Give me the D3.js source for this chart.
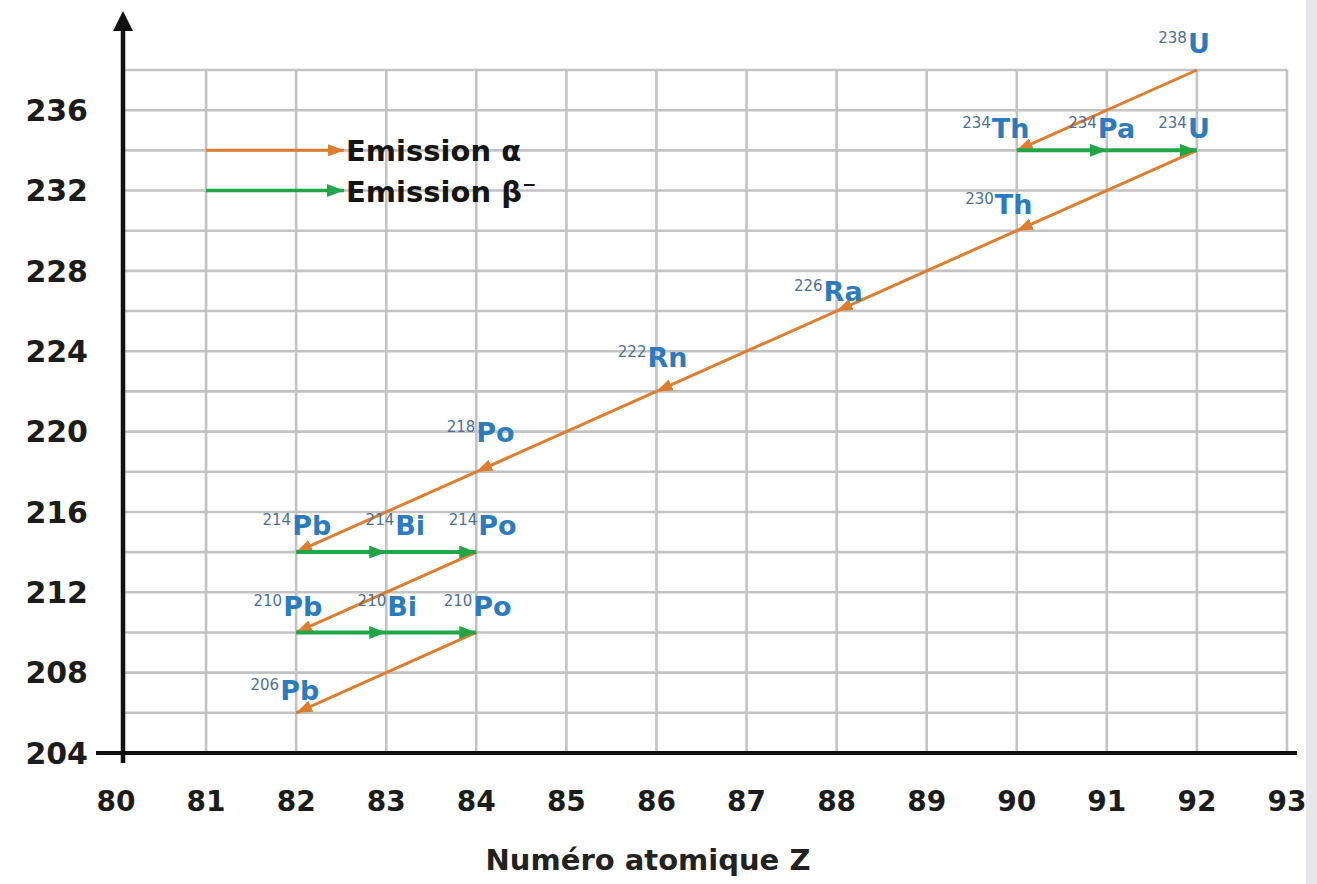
<!DOCTYPE html>
<html>
<head>
<meta charset="utf-8">
<script src="https://cdn.jsdelivr.net/npm/d3@7"></script>
<style>
  html, body { margin: 0; padding: 0; background: #ffffff; }
  svg { display: block; }
</style>
</head>
<body>
<script>
// Uranium-238 decay chain on an (atomic number Z, mass number A) grid

// Nuclides of the chain
const symbols       = ["U", "Th", "Pa", "U", "Th", "Ra", "Rn", "Po", "Pb", "Bi", "Po", "Pb", "Bi", "Po", "Pb"];
const massNumbers   = [238, 234, 234, 234, 230, 226, 222, 218, 214, 214, 214, 210, 210, 210, 206];
const atomicNumbers = [92, 90, 91, 92, 90, 88, 86, 84, 82, 83, 84, 82, 83, 84, 82];

// Decays as [parent index, daughter index]
const alphaDecays = [[0, 1], [3, 4], [4, 5], [5, 6], [6, 7], [7, 8], [10, 11], [13, 14]];
const betaDecays  = [[1, 2], [2, 3], [8, 9], [9, 10], [11, 12], [12, 13]];

// Axis ticks
const zTicks = [80, 81, 82, 83, 84, 85, 86, 87, 88, 89, 90, 91, 92, 93];
const aTicks = [204, 208, 212, 216, 220, 224, 228, 232, 236];
const aGrid  = [206, 208, 210, 212, 214, 216, 218, 220, 222, 224, 226, 228, 230, 232, 234, 236, 238];

// Legend
const legendLabels = ["Emission α", "Emission β"];
const xTitle = "Numéro atomique Z";

// ---- layout ----
const W = 1317, H = 884;
const axisLeft = 123, axisBottom = 753, axisRightEnd = 1297;
const FONT = "'DejaVu Sans', sans-serif";
const ORANGE = "#df7d2e", GREEN = "#22a547", GRID = "#c3c3c3";
const SYM_COLOR = "#2c7bbf", SUP_COLOR = "#4d6f94";

const x = d3.scaleLinear().domain([80, 93]).range([116, 1287]);
const y = d3.scaleLinear().domain([204, 238]).range([753, 70]);

// label placement relative to the nuclide point
const labelDefault = { dx: -9, dy: -16 };
const labelNudge = {
  0: { dx: -9, dy: -17 },
  1: { dx: -25, dy: -12 }, 2: { dx: -9, dy: -12 }, 3: { dx: -9, dy: -12 },
  4: { dx: -22, dy: -17 }, 5: { dx: -13, dy: -10 }, 6: { dx: -9, dy: -24 },
  7: { dx: 0, dy: -30 }, 8: { dx: -4, dy: -17 }, 9: { dx: 9, dy: -17 },
  10: { dx: 2, dy: -17 }, 11: { dx: -13, dy: -16 }, 12: { dx: 1, dy: -16 },
  13: { dx: -3, dy: -16 }, 14: { dx: -16, dy: -13 }
};

const svg = d3.select("body").append("svg")
  .attr("width", W).attr("height", H)
  .style("font-family", FONT);

svg.append("rect").attr("width", W).attr("height", H).attr("fill", "#ffffff");
// side strip of the page
svg.append("rect").attr("x", 1306).attr("y", 0).attr("width", W - 1306).attr("height", H).attr("fill", "#e7e7eb");

const defs = svg.append("defs");
function marker(id, color, len, wid) {
  defs.append("marker")
    .attr("id", id)
    .attr("viewBox", `0 0 ${len} ${wid}`)
    .attr("refX", len).attr("refY", wid / 2)
    .attr("markerUnits", "userSpaceOnUse")
    .attr("markerWidth", len).attr("markerHeight", wid)
    .attr("orient", "auto")
    .append("path")
    .attr("d", `M0,0 L${len},${wid / 2} L0,${wid} Z`)
    .attr("fill", color);
}
marker("headAlpha", ORANGE, 16, 12);
marker("headBeta", GREEN, 17, 13);

// ---- grid ----
const grid = svg.append("g").attr("stroke", GRID).attr("stroke-width", 2.6);
grid.selectAll("line.h").data(aGrid).join("line")
  .attr("class", "h")
  .attr("x1", axisLeft).attr("x2", x(93))
  .attr("y1", d => y(d)).attr("y2", d => y(d));
grid.selectAll("line.v").data(zTicks.slice(1)).join("line")
  .attr("class", "v")
  .attr("x1", d => x(d)).attr("x2", d => x(d))
  .attr("y1", y(238)).attr("y2", axisBottom);

// ---- axes ----
svg.append("line")
  .attr("x1", 96).attr("x2", axisRightEnd)
  .attr("y1", axisBottom).attr("y2", axisBottom)
  .attr("stroke", "#111").attr("stroke-width", 4);
svg.append("line")
  .attr("x1", axisLeft).attr("x2", axisLeft)
  .attr("y1", 763).attr("y2", 26)
  .attr("stroke", "#111").attr("stroke-width", 4.5);
svg.append("path")
  .attr("d", `M${axisLeft},11 L${axisLeft - 10},31 L${axisLeft + 10},31 Z`)
  .attr("fill", "#111");

// y tick labels
svg.append("g").selectAll("text").data(aTicks).join("text")
  .attr("x", 88).attr("y", d => y(d))
  .attr("dy", "0.36em")
  .attr("text-anchor", "end")
  .attr("font-size", 30).attr("font-weight", "bold")
  .attr("fill", "#1c1c1c")
  .text(d => d);

// x tick labels
svg.append("g").selectAll("text").data(zTicks).join("text")
  .attr("x", d => x(d)).attr("y", 811)
  .attr("text-anchor", "middle")
  .attr("font-size", 28).attr("font-weight", "bold")
  .attr("fill", "#1c1c1c")
  .text(d => d);

// x title
svg.append("text")
  .attr("x", 648).attr("y", 870)
  .attr("text-anchor", "middle")
  .attr("font-size", 29).attr("font-weight", "bold")
  .attr("fill", "#222")
  .text(xTitle);

// ---- decay arrows ----
const pt = i => [x(atomicNumbers[i]), y(massNumbers[i])];

svg.append("g").selectAll("line").data(alphaDecays).join("line")
  .attr("x1", d => pt(d[0])[0]).attr("y1", d => pt(d[0])[1])
  .attr("x2", d => pt(d[1])[0]).attr("y2", d => pt(d[1])[1])
  .attr("stroke", ORANGE).attr("stroke-width", 3)
  .attr("marker-end", "url(#headAlpha)");

svg.append("g").selectAll("line").data(betaDecays).join("line")
  .attr("x1", d => pt(d[0])[0]).attr("y1", d => pt(d[0])[1])
  .attr("x2", d => pt(d[1])[0]).attr("y2", d => pt(d[1])[1])
  .attr("stroke", GREEN).attr("stroke-width", 4)
  .attr("marker-end", "url(#headBeta)");

// ---- nuclide labels ----
const labels = svg.append("g").selectAll("g").data(symbols.map((s, i) => i)).join("g")
  .attr("transform", i => {
    const o = labelNudge[i] || labelDefault;
    const [px, py] = pt(i);
    return `translate(${px + o.dx},${py + o.dy})`;
  });
labels.append("text")
  .attr("font-size", 27).attr("font-weight", "bold")
  .attr("fill", SYM_COLOR)
  .text(i => symbols[i]);
labels.append("text")
  .attr("x", -1).attr("y", -10)
  .attr("text-anchor", "end")
  .attr("font-size", 15)
  .attr("fill", SUP_COLOR)
  .text(i => massNumbers[i]);

// ---- legend ----
const legendColors = [ORANGE, GREEN];
const legendMarkers = ["headAlpha", "headBeta"];
const legendRows = [234, 232];
const legend = svg.append("g");
legendLabels.forEach((lab, k) => {
  const ly = y(legendRows[k]);
  legend.append("line")
    .attr("x1", x(81)).attr("x2", x(81) + 138)
    .attr("y1", ly).attr("y2", ly)
    .attr("stroke", legendColors[k]).attr("stroke-width", k === 0 ? 3 : 3.5)
    .attr("marker-end", `url(#${legendMarkers[k]})`);
  const t = legend.append("text")
    .attr("x", x(81) + 140).attr("y", ly + 11)
    .attr("font-size", 29).attr("font-weight", "bold")
    .attr("fill", "#151515")
    .text(lab);
  if (k === 1) {
    t.append("tspan").attr("font-size", 17).attr("dy", -12).text("−");
  }
});
</script>
</body>
</html>
